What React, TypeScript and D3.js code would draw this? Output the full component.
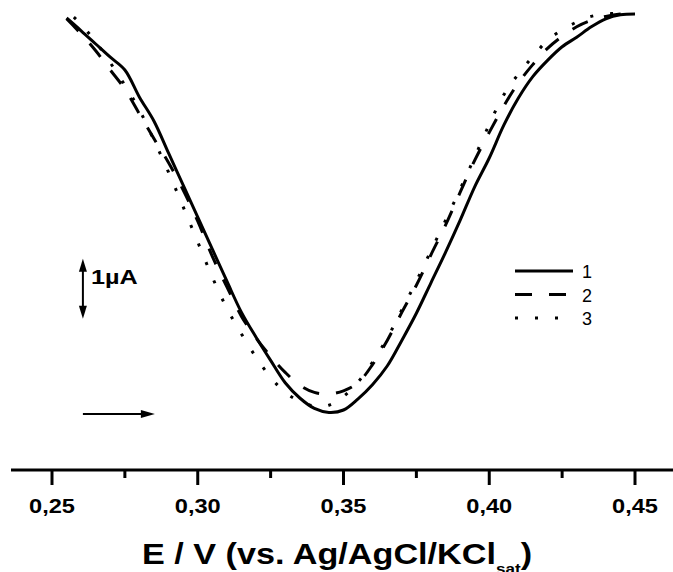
import React from 'react';
import * as d3 from 'd3';

// Potential (V vs Ag/AgCl/KCl sat)
const potential12 = [0.255,0.26,0.265,0.27,0.275,0.28,0.285,0.29,0.295,0.3,0.305,0.31,0.315,0.32,0.325,0.33,0.335,0.34,0.345,0.35,0.355,0.36,0.365,0.37,0.375,0.38,0.385,0.39,0.395,0.4,0.405,0.41,0.415,0.42,0.425,0.43,0.435,0.44,0.445,0.45];
const potential3 = [0.2575,0.26,0.265,0.27,0.275,0.28,0.285,0.29,0.295,0.3,0.305,0.31,0.315,0.32,0.325,0.33,0.335,0.34,0.345,0.35,0.355,0.36,0.365,0.37,0.375,0.38,0.385,0.39,0.395,0.4,0.405,0.41,0.415,0.42,0.425,0.43,0.435,0.44,0.445];

// Current (relative units; scale bar below marks 1 µA)
const current1 = [-0.05,-0.21,-0.375,-0.54,-0.70,-1.04,-1.34,-1.74,-2.14,-2.54,-2.94,-3.34,-3.73,-4.04,-4.33,-4.61,-4.80,-4.93,-4.98,-4.95,-4.81,-4.63,-4.40,-4.08,-3.74,-3.36,-2.98,-2.58,-2.16,-1.80,-1.39,-1.05,-0.78,-0.58,-0.41,-0.29,-0.16,-0.06,-0.01,0];
const current2 = [-0.06,-0.25,-0.46,-0.70,-0.94,-1.25,-1.56,-1.86,-2.20,-2.59,-3.03,-3.41,-3.78,-4.05,-4.28,-4.48,-4.64,-4.73,-4.75,-4.71,-4.61,-4.38,-4.08,-3.73,-3.39,-3.01,-2.64,-2.23,-1.83,-1.48,-1.15,-0.86,-0.63,-0.43,-0.28,-0.16,-0.08,-0.03,0,0.01];
const current3 = [-0.04,-0.13,-0.35,-0.61,-0.89,-1.20,-1.58,-1.98,-2.41,-2.85,-3.29,-3.68,-4.00,-4.29,-4.54,-4.73,-4.84,-4.90,-4.89,-4.78,-4.60,-4.35,-4.05,-3.70,-3.34,-2.96,-2.58,-2.19,-1.79,-1.38,-1.01,-0.75,-0.53,-0.33,-0.20,-0.10,-0.03,0,0.01];

const majorTicks = [0.25, 0.30, 0.35, 0.40, 0.45];
const majorLabels = ['0,25', '0,30', '0,35', '0,40', '0,45'];
const minorTicks = [0.275, 0.325, 0.375, 0.425];
const legendLabels = ['1', '2', '3'];

// annotation anchors in data units
const scaleBarE = 0.2606;
const scaleBarTop = -3.06;
const scaleBarLength = 0.75; // = 1 µA
const scanArrowE = [0.2606, 0.2853];
const scanArrowI = -5.0;

const W = 673, H = 572;
const FONT = '"Liberation Sans", Arial, sans-serif';

export default function App() {
  const x = d3.scaleLinear().domain([0.25, 0.45]).range([52, 635]);
  const y = d3.scaleLinear().domain([0, -5]).range([14, 414]);
  const line = d3.line<[number, number]>()
    .x(d => x(d[0]))
    .y(d => y(d[1]))
    .curve(d3.curveCatmullRom.alpha(0.5));

  const s1 = potential12.map((e, i) => [e, current1[i]] as [number, number]);
  const s2 = potential12.map((e, i) => [e, current2[i]] as [number, number]);
  const s3 = potential3.map((e, i) => [e, current3[i]] as [number, number]);

  const styles = [
    { dash: undefined as string | undefined },
    { dash: '17 17' },
    { dash: '3 17' },
  ];
  const series = [s1, s2, s3];

  const axisY = 470;
  const vx = x(scaleBarE);
  const vy1 = y(scaleBarTop);
  const vy2 = y(scaleBarTop - scaleBarLength);
  const hx1 = x(scanArrowE[0]);
  const hx2 = x(scanArrowE[1]);
  const hy = y(scanArrowI);

  return (
    <svg width={W} height={H} style={{ position: 'absolute', left: 0, top: 0, background: '#fff' }} fontFamily={FONT}>
      <rect width={W} height={H} fill="#fff" />
      {series.map((s, i) => (
        <path key={i} d={line(s) || ''} fill="none" stroke="#000" strokeWidth={3}
          strokeDasharray={styles[i].dash} strokeLinejoin="round" />
      ))}

      {/* x axis */}
      <line x1={11} x2={673} y1={axisY} y2={axisY} stroke="#000" strokeWidth={3} />
      {majorTicks.map((t, i) => (
        <g key={t}>
          <line x1={x(t)} x2={x(t)} y1={axisY} y2={axisY + 15} stroke="#000" strokeWidth={3} />
          <text transform={`translate(${x(t)},${513}) scale(1.18,1)`} textAnchor="middle" fontSize={20} fontWeight="bold">{majorLabels[i]}</text>
        </g>
      ))}
      {minorTicks.map(t => (
        <line key={t} x1={x(t)} x2={x(t)} y1={axisY} y2={axisY + 8} stroke="#000" strokeWidth={3} />
      ))}

      {/* axis title */}
      <text transform={`translate(142,564) scale(1.14,1)`} fontSize={30} fontWeight="bold">
        E / V (vs. Ag/AgCl/KCl<tspan fontSize={15} dy={10}>sat</tspan><tspan dy={-10}>)</tspan>
      </text>

      {/* legend */}
      {legendLabels.map((lab, i) => (
        <g key={lab}>
          <line x1={515} x2={573} y1={271 + i * 23.5} y2={271 + i * 23.5} stroke="#000" strokeWidth={3}
            strokeDasharray={styles[i].dash} />
          <text x={582} y={278 + i * 23.5} fontSize={18}>{lab}</text>
        </g>
      ))}

      {/* scale bar */}
      <line x1={vx} x2={vx} y1={vy1 + 8} y2={vy2 - 8} stroke="#000" strokeWidth={2} />
      <path d={`M${vx},${vy1} L${vx - 4},${vy1 + 13} L${vx + 4},${vy1 + 13} Z`} fill="#000" />
      <path d={`M${vx},${vy2} L${vx - 4},${vy2 - 13} L${vx + 4},${vy2 - 13} Z`} fill="#000" />
      <text transform={`translate(91,284) scale(1.2,1)`} fontSize={21} fontWeight="bold">1µA</text>

      {/* scan direction arrow */}
      <line x1={hx1} x2={hx2 - 10} y1={hy} y2={hy} stroke="#000" strokeWidth={2} />
      <path d={`M${hx2},${hy} L${hx2 - 14},${hy - 4} L${hx2 - 14},${hy + 4} Z`} fill="#000" />
    </svg>
  );
}
